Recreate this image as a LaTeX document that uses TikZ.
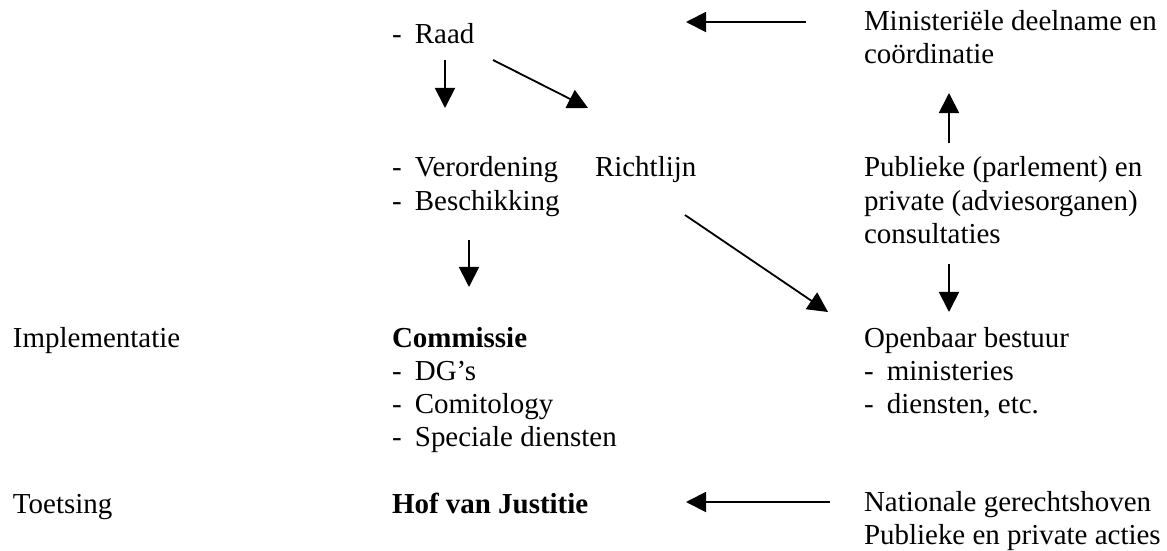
\documentclass[tikz,border=0pt]{standalone}
\usepackage{fontspec}
\setmainfont{Liberation Serif}
\usepackage{tikz}
\usetikzlibrary{arrows.meta, positioning}
\tikzset{
  txt/.style={anchor=base west, inner sep=0pt, outer sep=0pt,
    font=\fontsize{12}{13.8}\selectfont},
  arrow/.style={-{Triangle[length=8.3pt, width=8.3pt]}, line width=0.75pt, color=black}
}
\newcommand{\dashitem}[1]{\makebox[9.5pt][l]{-}#1}
\newcommand{\lines}[1]{\begin{tabular}[t]{@{}l@{}}#1\end{tabular}}

\begin{document}
\begin{tikzpicture}[x=0.4144pt, y=-0.4144pt]
  \useasboundingbox (0,0) rectangle (1167,551);

  % Rows
  \node[txt] (implementatie) at (13,347) {Implementatie};
  \node[txt] (toetsing) at (13,513) {Toetsing};

  % EU side
  \node[txt] (raad) at (392,43) {\dashitem{Raad}};
  \node[txt] (verordening) at (392,177) {\lines{\dashitem{Verordening}\\ \dashitem{Beschikking}}};
  \node[txt] (richtlijn) at (595,177) {Richtlijn};
  \node[txt] (commissie) at (392,347) {\lines{\textbf{Commissie}\\ \dashitem{DG’s}\\ \dashitem{Comitology}\\ \dashitem{Speciale diensten}}};
  \node[txt] (hof) at (392,513) {\textbf{Hof van Justitie}};

  % National side
  \node[txt] (ministers) at (864,30) {\lines{Ministeriële deelname en\\ coördinatie}};
  \node[txt] (consultaties) at (864,177) {\lines{Publieke (parlement) en\\ private (adviesorganen)\\ consultaties}};
  \node[txt] (bestuur) at (864,347) {\lines{Openbaar bestuur\\ \dashitem{ministeries}\\ \dashitem{diensten, etc.}}};
  \node[txt] (gerecht) at (864,511) {\lines{Nationale gerechtshoven\\ Publieke en private acties}};

  % Arrow ends
  \coordinate (ministers-out) at (806,22);
  \coordinate (raad-in) at (686,22);
  \coordinate (raad-down) at (445,60);
  \coordinate (verordening-in) at (445,108);
  \coordinate (raad-diag) at (493,60);
  \coordinate (richtlijn-in) at (588,108);
  \coordinate (beschikking-down) at (469,240);
  \coordinate (commissie-in) at (469,287);
  \coordinate (richtlijn-out) at (685,215);
  \coordinate (bestuur-in) at (828,312);
  \coordinate (consultaties-up) at (949,143);
  \coordinate (ministers-in) at (949,93);
  \coordinate (consultaties-down) at (949,264);
  \coordinate (bestuur-top) at (949,312);
  \coordinate (gerecht-out) at (830,502);
  \coordinate (hof-in) at (686,502);

  % Paths
  \draw[arrow] (ministers-out) -- (raad-in);
  \draw[arrow] (raad-down) -- (verordening-in);
  \draw[arrow] (raad-diag) -- (richtlijn-in);
  \draw[arrow] (beschikking-down) -- (commissie-in);
  \draw[arrow] (richtlijn-out) -- (bestuur-in);
  \draw[arrow] (consultaties-up) -- (ministers-in);
  \draw[arrow] (consultaties-down) -- (bestuur-top);
  \draw[arrow] (gerecht-out) -- (hof-in);
\end{tikzpicture}
\end{document}
